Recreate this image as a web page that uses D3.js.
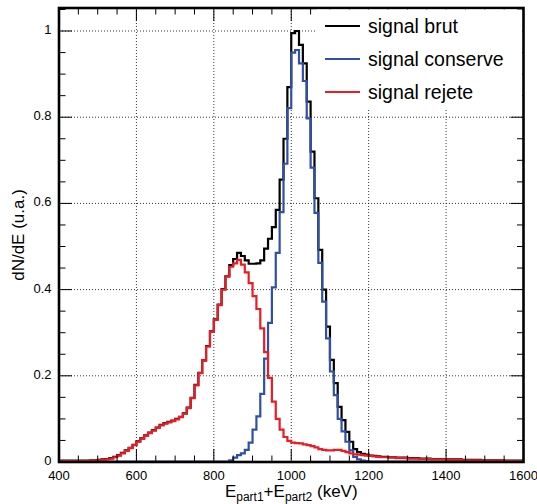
<!DOCTYPE html>
<html><head><meta charset="utf-8">
<script src="https://cdn.jsdelivr.net/npm/d3@7"></script>
<style>body{margin:0;background:#fff}svg{display:block}text{font-family:"Liberation Sans",Arial,Helvetica,sans-serif}</style>
</head><body><svg id="c" width="537" height="504"></svg>
<script>
// bin low edges (keV), 10 keV bins from 400 to 1600
const binEdges = d3.range(400, 1601, 10);
const xTicks = [400, 600, 800, 1000, 1200, 1400, 1600];
const yTicks = [0, 0.2, 0.4, 0.6, 0.8, 1];
const seriesNames = ["signal brut", "signal conserve", "signal rejete"];
const seriesColors = ["#000000", "#3050a8", "#ec1c24"];

const brut = [
0.003,0.003,0.003,0.003,0.003,0.003,0.003,0.003,0.004,0.004,
0.005,0.006,0.007,0.009,0.012,0.016,0.021,0.027,0.033,0.040,
0.048,0.055,0.062,0.068,0.074,0.080,0.086,0.090,0.093,0.096,
0.100,0.105,0.113,0.126,0.149,0.179,0.207,0.236,0.269,0.303,
0.331,0.365,0.401,0.431,0.457,0.471,0.485,0.478,0.468,0.460,
0.460,0.461,0.468,0.495,0.518,0.545,0.585,0.655,0.750,0.870,
0.995,1.000,0.968,0.925,0.836,0.720,0.612,0.492,0.400,0.314,
0.237,0.183,0.128,0.097,0.070,0.047,0.030,0.023,0.019,0.017,
0.015,0.014,0.013,0.012,0.012,0.011,0.011,0.010,0.010,0.010,
0.009,0.009,0.009,0.008,0.008,0.008,0.007,0.007,0.007,0.007,
0.006,0.006,0.006,0.006,0.005,0.005,0.005,0.005,0.005,0.004,
0.004,0.004,0.004,0.004,0.004,0.003,0.003,0.003,0.003,0.003];

const conserve = [
0.001,0.001,0.001,0.001,0.001,0.001,0.001,0.001,0.001,0.001,
0.001,0.001,0.001,0.001,0.001,0.001,0.001,0.001,0.001,0.001,
0.001,0.001,0.001,0.001,0.001,0.001,0.001,0.001,0.001,0.001,
0.001,0.001,0.001,0.001,0.001,0.001,0.001,0.001,0.001,0.001,
0.001,0.001,0.001,0.001,0.004,0.010,0.016,0.020,0.028,0.045,
0.075,0.106,0.158,0.240,0.323,0.405,0.485,0.580,0.692,0.821,
0.950,0.956,0.925,0.884,0.797,0.683,0.578,0.462,0.372,0.287,
0.210,0.155,0.100,0.071,0.047,0.027,0.012,0.006,0.003,0.002,
0.001,0.001,0.001,0.001,0.001,0.001,0.001,0.001,0.001,0.001,
0.001,0.001,0.001,0.001,0.001,0.001,0.001,0.001,0.001,0.001,
0.001,0.001,0.001,0.001,0.001,0.001,0.001,0.001,0.001,0.001,
0.001,0.001,0.001,0.001,0.001,0.001,0.001,0.001,0.001,0.001];

const rejete = [
0.002,0.002,0.002,0.002,0.002,0.002,0.002,0.002,0.003,0.003,
0.004,0.005,0.006,0.008,0.011,0.015,0.020,0.026,0.032,0.039,
0.047,0.054,0.061,0.067,0.073,0.079,0.085,0.089,0.092,0.095,
0.099,0.104,0.112,0.125,0.148,0.178,0.206,0.235,0.268,0.302,
0.330,0.364,0.400,0.430,0.453,0.461,0.469,0.458,0.440,0.415,
0.385,0.355,0.310,0.255,0.195,0.140,0.100,0.075,0.058,0.049,
0.045,0.044,0.043,0.041,0.039,0.037,0.034,0.030,0.028,0.027,
0.027,0.028,0.028,0.026,0.023,0.020,0.018,0.017,0.016,0.015,
0.014,0.013,0.012,0.011,0.011,0.010,0.010,0.009,0.009,0.009,
0.008,0.008,0.008,0.007,0.007,0.007,0.006,0.006,0.006,0.006,
0.005,0.005,0.005,0.005,0.004,0.004,0.004,0.004,0.004,0.003,
0.003,0.003,0.003,0.003,0.003,0.002,0.002,0.002,0.002,0.002];

const series = [brut, conserve, rejete];

const L = 59, R = 523.5, T = 8, B = 462;
const svg = d3.select("#c");
const x = d3.scaleLinear().domain([400, 1600]).range([L, R]);
const y = d3.scaleLinear().domain([0, 1.0534]).range([B, T]);

// grid
const g = svg.append("g");
g.selectAll("line.gx").data(xTicks.slice(1, -1)).enter().append("line")
  .attr("x1", d => x(d)).attr("x2", d => x(d)).attr("y1", T).attr("y2", B)
  .attr("stroke", "#000").attr("stroke-width", 0.8).attr("stroke-dasharray", "1,2");
g.selectAll("line.gy").data(yTicks.slice(1)).enter().append("line")
  .attr("y1", d => y(d)).attr("y2", d => y(d)).attr("x1", L).attr("x2", R)
  .attr("stroke", "#000").attr("stroke-width", 0.8).attr("stroke-dasharray", "1,2");

// histograms
const line = d3.line().curve(d3.curveStepAfter).x(d => x(d[0])).y(d => y(d[1]));
series.forEach((s, i) => {
  const pts = s.map((v, k) => [binEdges[k], v]);
  pts.push([binEdges[s.length], s[s.length - 1]]);
  svg.append("path").attr("d", line(pts)).attr("fill", "none")
    .attr("stroke", seriesColors[i]).attr("stroke-width", 2.2);
});

// axes with inward ticks on all four sides
const xMinor = d3.range(400, 1601, 50), yMinor = d3.range(0, 1.051, 0.05);
const tk = svg.append("g").attr("stroke", "#000").attr("stroke-width", 1);
xMinor.forEach(v => {
  const len = xTicks.includes(v) ? 13 : 6.5;
  tk.append("line").attr("x1", x(v)).attr("x2", x(v)).attr("y1", B).attr("y2", B - len);
  tk.append("line").attr("x1", x(v)).attr("x2", x(v)).attr("y1", T).attr("y2", T + len);
});
yMinor.forEach(v => {
  const major = yTicks.some(t => Math.abs(t - v) < 1e-6);
  const len = major ? 13 : 6.5;
  tk.append("line").attr("y1", y(v)).attr("y2", y(v)).attr("x1", L).attr("x2", L + len);
  tk.append("line").attr("y1", y(v)).attr("y2", y(v)).attr("x1", R).attr("x2", R - len);
});

// frame
svg.append("rect").attr("x", L).attr("y", T).attr("width", R - L).attr("height", B - T)
  .attr("fill", "none").attr("stroke", "#000").attr("stroke-width", 2.6);

// tick labels
svg.selectAll("text.xl").data(xTicks).enter().append("text")
  .attr("x", d => x(d)).attr("y", 479.8).attr("text-anchor", "middle")
  .attr("font-size", 13).attr("fill", "#000").text(d => d);
svg.selectAll("text.yl").data(yTicks).enter().append("text")
  .attr("x", 51.5).attr("y", d => y(d) + 3).attr("text-anchor", "end")
  .attr("font-size", 13).attr("fill", "#000").text(d => d3.format("~g")(d));

// axis titles
const xt = svg.append("text").attr("x", x(1000)).attr("y", 496.5).attr("text-anchor", "middle")
  .attr("font-size", 17).attr("fill", "#000");
xt.append("tspan").text("E");
xt.append("tspan").attr("font-size", 12).attr("dy", 4).text("part1");
xt.append("tspan").attr("dy", -4).text("+E");
xt.append("tspan").attr("font-size", 12).attr("dy", 4).text("part2");
xt.append("tspan").attr("dy", -4).text(" (keV)");
svg.append("text").attr("transform", `translate(24,${(T + B) / 2}) rotate(-90)`)
  .attr("text-anchor", "middle").attr("font-size", 17).attr("fill", "#000").text("dN/dE (u.a.)");

// legend
const lg = svg.append("g");
lg.append("rect").attr("x", 317).attr("y", T + 1.5).attr("width", R - 317 - 1.5).attr("height", 100).attr("fill", "#fff");
const legY = [26, 59, 92];
seriesNames.forEach((n, i) => {
  lg.append("line").attr("x1", 325).attr("x2", 360).attr("y1", legY[i]).attr("y2", legY[i])
    .attr("stroke", seriesColors[i]).attr("stroke-width", 2.2);
  lg.append("text").attr("x", 368).attr("y", legY[i] + 7).attr("font-size", 19.5).attr("fill", "#000").text(n);
});
</script></body></html>
